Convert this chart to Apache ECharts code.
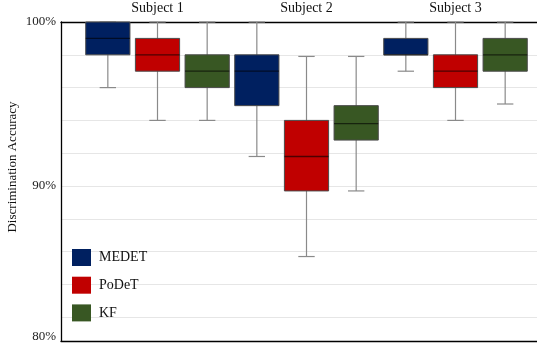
<!DOCTYPE html>
<html>
<head>
<meta charset="utf-8">
<script src="https://cdn.jsdelivr.net/npm/echarts@6/dist/echarts.min.js"></script>
<style>
html,body{margin:0;padding:0;background:#fff;}
#c{width:537px;height:349px;}
</style>
</head>
<body>
<div id="c"></div>
<script>
const subjects = ['Subject 1', 'Subject 2', 'Subject 3'];
const methods = ['MEDET', 'PoDeT', 'KF'];
// per method, per subject: [low, q1, median, q3, high]
const medetStats = [[96, 98, 99, 100, 100], [91.8, 94.9, 97, 98, 100], [97, 98, 98, 99, 100]];
const podetStats = [[94, 97, 98, 99, 100], [85.7, 89.7, 91.8, 94, 97.9], [94, 96, 97, 98, 100]];
const kfStats = [[94, 96, 97, 98, 100], [89.7, 92.8, 93.8, 94.9, 97.9], [95, 97, 98, 99, 100]];
const gridValues = [82, 84, 86, 88, 90, 92, 94, 96, 98];
const yLabelValues = [80.8, 90, 100];
const yMin = 80.55, yMax = 100;

const colors = ['#002060', '#C00000', '#385723'];
const statsList = [medetStats, podetStats, kfStats];
const FONT = 'Liberation Serif';

const slotLabels = [];
for (let s = 0; s < subjects.length; s++) {
  for (let m = 0; m < methods.length; m++) {
    slotLabels.push(m === 1 ? subjects[s] : ' ' + s + m);
  }
}

function renderItem(params, api) {
  const x = api.value(0);
  const band = api.size([1, 0])[0];
  const bw = band * 0.89, cw = band * 0.33;
  const cx = api.coord([x, api.value(3)])[0];
  const yLow = api.coord([x, api.value(1)])[1];
  const yQ1 = api.coord([x, api.value(2)])[1];
  const yMed = api.coord([x, api.value(3)])[1];
  const yQ3 = api.coord([x, api.value(4)])[1];
  const yHigh = api.coord([x, api.value(5)])[1];
  const col = api.visual('color');
  const wStyle = { stroke: '#8a8a8a', lineWidth: 1.2 };
  return {
    type: 'group',
    children: [
      { type: 'line', shape: { x1: cx, y1: yHigh, x2: cx, y2: yLow }, style: wStyle },
      { type: 'line', shape: { x1: cx - cw / 2, y1: yHigh, x2: cx + cw / 2, y2: yHigh }, style: wStyle },
      { type: 'line', shape: { x1: cx - cw / 2, y1: yLow, x2: cx + cw / 2, y2: yLow }, style: wStyle },
      { type: 'rect', shape: { x: cx - bw / 2, y: yQ3, width: bw, height: yQ1 - yQ3 },
        style: { fill: col, stroke: '#4a4a4a', lineWidth: 1 } },
      { type: 'line', shape: { x1: cx - bw / 2, y1: yMed, x2: cx + bw / 2, y2: yMed },
        style: { stroke: 'rgba(0,0,0,0.6)', lineWidth: 1.3 } }
    ]
  };
}

const series = methods.map((name, m) => ({
  name: name,
  type: 'custom',
  xAxisIndex: 2,
  yAxisIndex: 1,
  itemStyle: { color: colors[m] },
  renderItem: renderItem,
  encode: { x: 0, y: [1, 2, 3, 4, 5] },
  data: statsList[m].map((st, s) => [s * 3 + m].concat(st))
}));

const chart = echarts.init(document.getElementById('c'), null, { renderer: 'canvas' });
chart.setOption({
  animation: false,
  backgroundColor: '#fff',
  grid: [
    { left: 61, right: 0, top: 22, bottom: 8, containLabel: false, outerBoundsMode: 'none' },
    { left: 83, right: 7, top: 22, bottom: 8, containLabel: false, outerBoundsMode: 'none' }
  ],
  xAxis: [
    { gridIndex: 0, type: 'value', min: 0, max: 1, position: 'bottom',
      axisLine: { show: true, onZero: false, lineStyle: { color: '#000', width: 1.3 } },
      axisTick: { show: false }, axisLabel: { show: false }, splitLine: { show: false } },
    { gridIndex: 0, type: 'value', min: 0, max: 1, position: 'top',
      axisLine: { show: true, onZero: false, lineStyle: { color: '#000', width: 1.3 } },
      axisTick: { show: false }, axisLabel: { show: false }, splitLine: { show: false } },
    { gridIndex: 1, type: 'category', data: slotLabels, position: 'top',
      axisLine: { show: false }, axisTick: { show: false }, splitLine: { show: false },
      axisLabel: { margin: 7, fontFamily: FONT, fontSize: 14, color: '#111', interval: 0,
        formatter: v => (subjects.indexOf(v) >= 0 ? v : '') } }
  ],
  yAxis: [
    { gridIndex: 0, type: 'value', min: yMin, max: yMax,
      name: 'Discrimination Accuracy', nameLocation: 'middle', nameRotate: 90, nameGap: 42,
      nameMoveOverlap: false,
      nameTextStyle: { fontFamily: FONT, fontSize: 13, color: '#111', padding: [0, 0, 0, 29] },
      axisLine: { show: true, onZero: false, lineStyle: { color: '#000', width: 1.3 } },
      axisTick: { show: false, customValues: gridValues },
      splitLine: { show: true, lineStyle: { color: '#e6e6e6', width: 1 } },
      axisLabel: { customValues: yLabelValues, margin: 5, fontFamily: FONT, fontSize: 13, color: '#222',
        formatter: v => (Math.round(v / 10) * 10) + '%' } },
    { gridIndex: 1, type: 'value', min: yMin, max: yMax, show: false, splitLine: { show: false } }
  ],
  legend: {
    orient: 'vertical', left: 72, top: 249, padding: 0, itemWidth: 19, itemHeight: 17, itemGap: 10.7,
    icon: 'rect', data: methods,
    textStyle: { fontFamily: FONT, fontSize: 14, color: '#111', padding: [0, 0, 0, 3] }
  },
  series: series
});
</script>
</body>
</html>
